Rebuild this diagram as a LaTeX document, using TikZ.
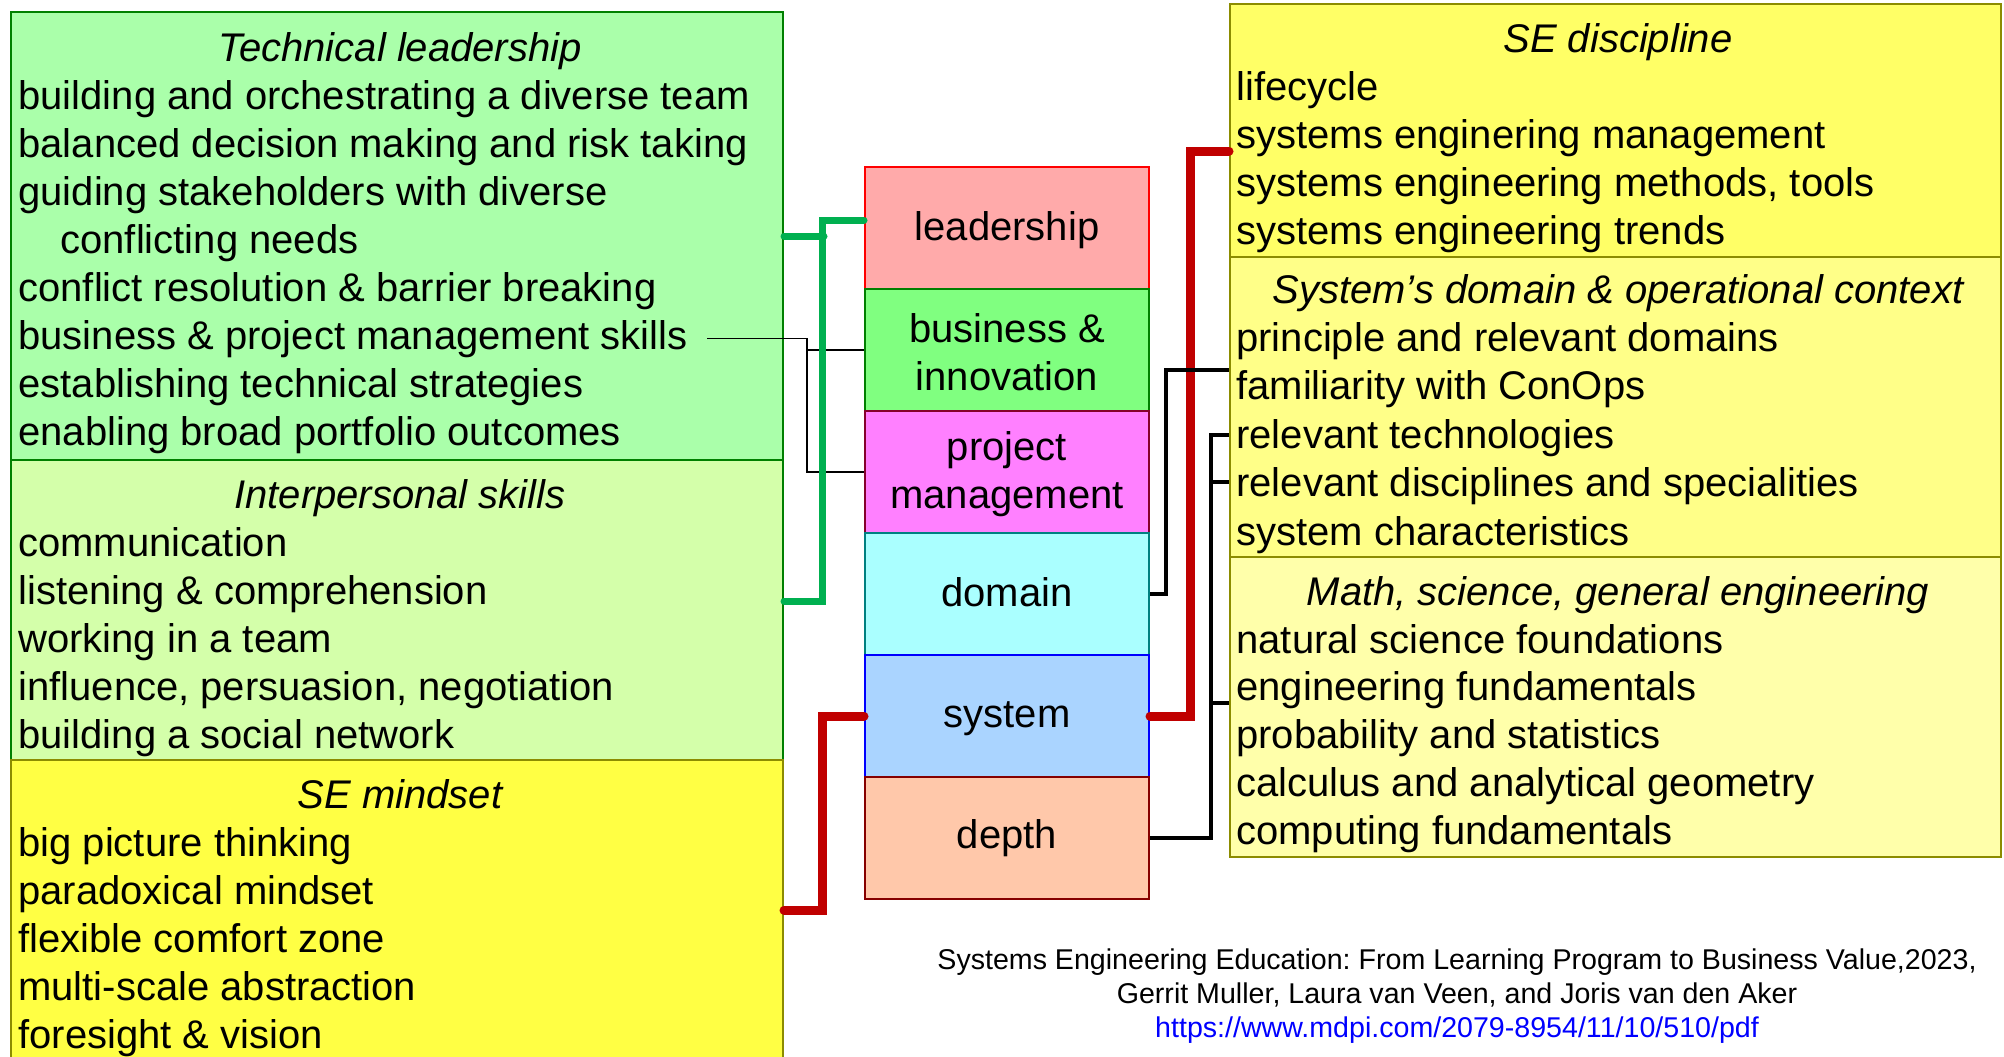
\documentclass[tikz,border=0pt]{standalone}
\usepackage{fontspec}
\setmainfont{Liberation Sans}
\usetikzlibrary{calc}
\frenchspacing
\definecolor{tlfill}{HTML}{AAFFAA}
\definecolor{ipfill}{HTML}{D4FFAA}
\definecolor{smfill}{HTML}{FFFF44}
\definecolor{r1fill}{HTML}{FFFF66}
\definecolor{r2fill}{HTML}{FFFF88}
\definecolor{r3fill}{HTML}{FFFFAA}
\definecolor{dgreen}{HTML}{008000}
\definecolor{olivebd}{HTML}{8C8C00}
\definecolor{gconn}{HTML}{00B050}
\definecolor{rconn}{HTML}{C00000}
\definecolor{leadfill}{HTML}{FFAAAA}
\definecolor{busfill}{HTML}{80FF80}
\definecolor{projfill}{HTML}{FF80FF}
\definecolor{domfill}{HTML}{AAFFFF}
\definecolor{sysfill}{HTML}{AAD4FF}
\definecolor{depfill}{HTML}{FFC8AA}
\definecolor{urlblue}{HTML}{0000FF}
\begin{document}
\begin{tikzpicture}[x=0.5pt,y=-0.5pt,
  bigbox/.style={draw, line width=1pt, rectangle, inner sep=0pt},
  cbox/.style={draw, line width=1pt, rectangle, inner sep=0pt, minimum width=142pt, minimum height=61pt},
  ctxt/.style={inner sep=0pt, align=center, font=\fontsize{20}{24}\selectfont},
  txt/.style={anchor=base west, inner sep=0pt, font=\fontsize{20}{24}\selectfont},
  ttl/.style={anchor=base, inner sep=0pt, font=\fontsize{20}{24}\selectfont\itshape},
  cite/.style={anchor=base, inner sep=0pt, font=\fontsize{14.3}{17}\selectfont},
  gline/.style={draw=gconn, line width=3.5pt, line cap=round},
  rline/.style={draw=rconn, line width=4.5pt, line cap=round},
  bline/.style={draw=black, line width=1.8pt},
  thinline/.style={draw=black, line width=0.7pt}]
\path[use as bounding box, fill=white] (0,0) rectangle (2004,1056);

% left boxes
\node[bigbox, draw=dgreen, fill=tlfill, minimum width=386pt, minimum height=224pt] (L1) at (397,236) {};
\node[bigbox, draw=dgreen, fill=ipfill, minimum width=386pt, minimum height=150pt] (L2) at (397,610) {};
\node[bigbox, draw=olivebd, fill=smfill, minimum width=386pt, minimum height=160pt] (L3) at (397,920) {};

% right boxes
\node[bigbox, draw=olivebd, fill=r1fill, minimum width=385.5pt, minimum height=126.5pt] (R1) at (1615.5,130.5) {};
\node[bigbox, draw=olivebd, fill=r2fill, minimum width=385.5pt, minimum height=150pt] (R2) at (1615.5,407) {};
\node[bigbox, draw=olivebd, fill=r3fill, minimum width=385.5pt, minimum height=150pt] (R3) at (1615.5,707) {};

% centre column
\node[cbox, draw=red, fill=leadfill] (lead) at (1007,228) {};
\node[cbox, draw=dgreen, fill=busfill] (bus) at (1007,350) {};
\node[cbox, draw=purple!70!black, fill=projfill] (proj) at (1007,472) {};
\node[cbox, draw=teal, fill=domfill] (dom) at (1007,594) {};
\node[cbox, draw=blue, fill=sysfill] (sys) at (1007,716) {};
\node[cbox, draw=rconn!70!black, fill=depfill] (dep) at (1007,838) {};
\node[ctxt] (leadt) at (1007,230) {leadership};
\node[ctxt] (bust) at (1007,352) {business \&\\innovation};
\node[ctxt] (projt) at (1007,474) {project\\management};
\node[ctxt] (domt) at (1007,592) {domain};
\node[ctxt] (syst) at (1007,719) {system};
\node[ctxt] (dept) at (1007,838) {depth};

% left texts
\node[ttl] (tlh) at (400,61) {Technical leadership};
\node[txt] (tl1) at (18,109) {building and orchestrating a diverse team};
\node[txt] (tl2) at (18,157) {balanced decision making and risk taking};
\node[txt] (tl3) at (18,205) {guiding stakeholders with diverse};
\node[txt] (tl4) at (60,253) {conflicting needs};
\node[txt] (tl5) at (18,301) {conflict resolution \& barrier breaking};
\node[txt] (tl6) at (18,349) {business \& project management skills};
\node[txt] (tl7) at (18,397) {establishing technical strategies};
\node[txt] (tl8) at (18,445) {enabling broad portfolio outcomes};

\node[ttl] (iph) at (400,508) {Interpersonal skills};
\node[txt] (ip1) at (18,556) {communication};
\node[txt] (ip2) at (18,604) {listening \& comprehension};
\node[txt] (ip3) at (18,652) {working in a team};
\node[txt] (ip4) at (18,700) {influence, persuasion, negotiation};
\node[txt] (ip5) at (18,748) {building a social network};

\node[ttl] (smh) at (400,808) {SE mindset};
\node[txt] (sm1) at (18,856) {big picture thinking};
\node[txt] (sm2) at (18,904) {paradoxical mindset};
\node[txt] (sm3) at (18,952) {flexible comfort zone};
\node[txt] (sm4) at (18,1000) {multi-scale abstraction};
\node[txt] (sm5) at (18,1048) {foresight \& vision};

% right texts
\node[ttl] (sdh) at (1618,52) {SE discipline};
\node[txt] (sd1) at (1236,100) {lifecycle};
\node[txt] (sd2) at (1236,148) {systems enginering management};
\node[txt] (sd3) at (1236,196) {systems engineering methods, tools};
\node[txt] (sd4) at (1236,244) {systems engineering trends};

\node[ttl] (doh) at (1618,303) {System’s domain \& operational context};
\node[txt] (do1) at (1236,351) {principle and relevant domains};
\node[txt] (do2) at (1236,399) {familiarity with ConOps};
\node[txt] (do3) at (1236,448) {relevant technologies};
\node[txt] (do4) at (1236,496) {relevant disciplines and specialities};
\node[txt] (do5) at (1236,545) {system characteristics};

\node[ttl] (msh) at (1618,605) {Math, science, general engineering};
\node[txt] (ms1) at (1236,653) {natural science foundations};
\node[txt] (ms2) at (1236,700) {engineering fundamentals};
\node[txt] (ms3) at (1236,748) {probability and statistics};
\node[txt] (ms4) at (1236,796) {calculus and analytical geometry};
\node[txt] (ms5) at (1236,844) {computing fundamentals};

% citation
\node[cite] (c1) at (1457,969) {Systems Engineering Education: From Learning Program to Business Value,2023,};
\node[cite] (c2) at (1457,1003) {Gerrit Muller, Laura van Veen, and Joris van den Aker};
\node[cite, text=urlblue] (c3) at (1457,1037) {https://www.mdpi.com/2079-8954/11/10/510/pdf};

% connectors
\draw[thinline] ([xshift=9.5pt]tl6.east) -| ([xshift=-28.5pt]proj.west) -- (proj.west);
\draw[thinline] ([xshift=-28.5pt]bus.west) -- (bus.west);

\draw[gline] ($(lead.west)+(0,-8)$) -- ++(-42,0) |- ($(L2.east)+(0,-9)$);
\draw[gline] (L1.east) -- ++(40,0);

\draw[rline] (sys.west) -- ++(-42,0) |- ($(L3.east)+(0,-10)$);
\draw[rline] (sys.east) -- ++(40,0) |- ($(R1.west)+(0,20.5)$);

\draw[bline] (dom.east) -- ++(16,0) |- ($(R2.west)+(0,-37)$);
\draw[bline] (dep.east) -- ++(61,0) |- ($(R2.west)+(0,28)$);
\draw[bline] ($(R2.west)+(-20,75)$) -- ($(R2.west)+(0,75)$);
\draw[bline] ($(R3.west)+(-20,-4)$) -- ($(R3.west)+(0,-4)$);
\end{tikzpicture}
\end{document}
